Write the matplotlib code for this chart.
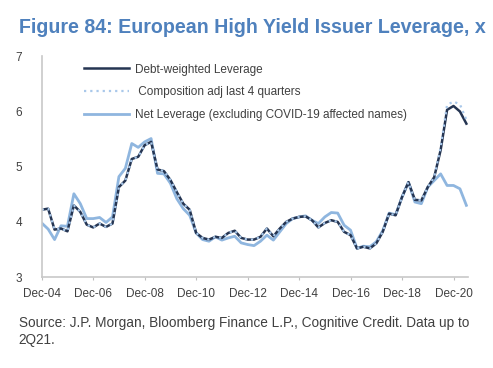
import matplotlib.pyplot as plt

# quarterly, Dec-04 .. Jun-21
debt_weighted = [4.22, 4.24, 3.86, 3.88, 3.83, 4.30, 4.18, 3.95, 3.90, 3.97,
                 3.91, 3.97, 4.63, 4.75, 5.14, 5.18, 5.39, 5.45, 4.95, 4.92,
                 4.76, 4.54, 4.33, 4.22, 3.80, 3.71, 3.68, 3.73, 3.71, 3.80,
                 3.84, 3.71, 3.68, 3.68, 3.73, 3.88, 3.74, 3.88, 4.00, 4.06,
                 4.09, 4.10, 4.03, 3.90, 3.98, 4.03, 4.00, 3.82, 3.76, 3.52,
                 3.55, 3.52, 3.61, 3.82, 4.15, 4.12, 4.45, 4.72, 4.40, 4.39,
                 4.63, 4.81, 5.30, 6.03, 6.10, 6.00, 5.78]
comp_adj = debt_weighted[:62] + [5.35, 6.12, 6.18, 6.13, 5.85]
net_leverage = [3.98, 3.87, 3.68, 3.93, 3.92, 4.51, 4.33, 4.06, 4.06, 4.08,
                3.99, 4.09, 4.82, 4.97, 5.42, 5.35, 5.45, 5.51, 4.88, 4.87,
                4.70, 4.42, 4.24, 4.12, 3.80, 3.68, 3.65, 3.73, 3.67, 3.71,
                3.74, 3.62, 3.59, 3.57, 3.65, 3.76, 3.67, 3.82, 3.97, 4.06,
                4.09, 4.11, 4.03, 3.97, 4.09, 4.17, 4.16, 3.94, 3.85, 3.52,
                3.56, 3.55, 3.64, 3.84, 4.16, 4.13, 4.45, 4.72, 4.36, 4.33,
                4.63, 4.75, 4.87, 4.66, 4.66, 4.60, 4.30]
tick_pos = [0, 8, 16, 24, 32, 40, 48, 56, 64]
tick_labels = ['Dec-04', 'Dec-06', 'Dec-08', 'Dec-10', 'Dec-12',
               'Dec-14', 'Dec-16', 'Dec-18', 'Dec-20']

plt.rcParams['font.family'] = ['Liberation Sans', 'DejaVu Sans']

fig = plt.figure(figsize=(4.93, 3.68), dpi=100)
ax = fig.add_axes([0.0846, 0.247, 0.864, 0.600])

x = list(range(len(debt_weighted)))
ax.plot(x, net_leverage, color='#8fb6df', lw=2.0,
        label='Net Leverage (excluding COVID-19 affected names)')
ax.plot(x, debt_weighted, color='#253552', lw=1.8, label='Debt-weighted Leverage')
ax.plot(x, comp_adj, color='#a9c8ea', lw=1.6, ls=(0, (1, 1.8)),
        label=' Composition adj last 4 quarters')

ax.set_xlim(0, 66.2)
ax.set_ylim(3, 7)
ax.set_yticks([3, 4, 5, 6, 7])
ax.set_xticks(tick_pos)
ax.set_xticklabels(tick_labels)
ax.tick_params(axis='y', length=0, pad=14, labelsize=8.5, labelcolor='#404040')
ax.tick_params(axis='x', length=2, color='#bfbfbf', pad=6, labelsize=8.5,
               labelcolor='#404040')
for s in ['top', 'right']:
    ax.spines[s].set_visible(False)
for s in ['left', 'bottom']:
    ax.spines[s].set_color('#c8c8c8')
    ax.spines[s].set_linewidth(1.2)

# legend order as in the source chart
h, l = ax.get_legend_handles_labels()
order = [1, 2, 0]
ax.legend([h[i] for i in order], [l[i] for i in order], loc='upper left',
          bbox_to_anchor=(0.075, 1.015), frameon=False, fontsize=8.5,
          handlelength=3.8, handletextpad=0.5, labelspacing=0.9,
          labelcolor='#404040')

fig.text(0.038, 0.95, 'Figure 84: European High Yield Issuer Leverage, x',
         fontsize=14.1, fontweight='bold', color='#4f81bd', va='top')
fig.text(0.038, 0.142, 'Source: J.P. Morgan, Bloomberg Finance L.P., Cognitive Credit. Data up to\n2Q21.',
         fontsize=9.8, color='#404040', linespacing=1.3, va='top')

fig.savefig('out.png', dpi=100)
